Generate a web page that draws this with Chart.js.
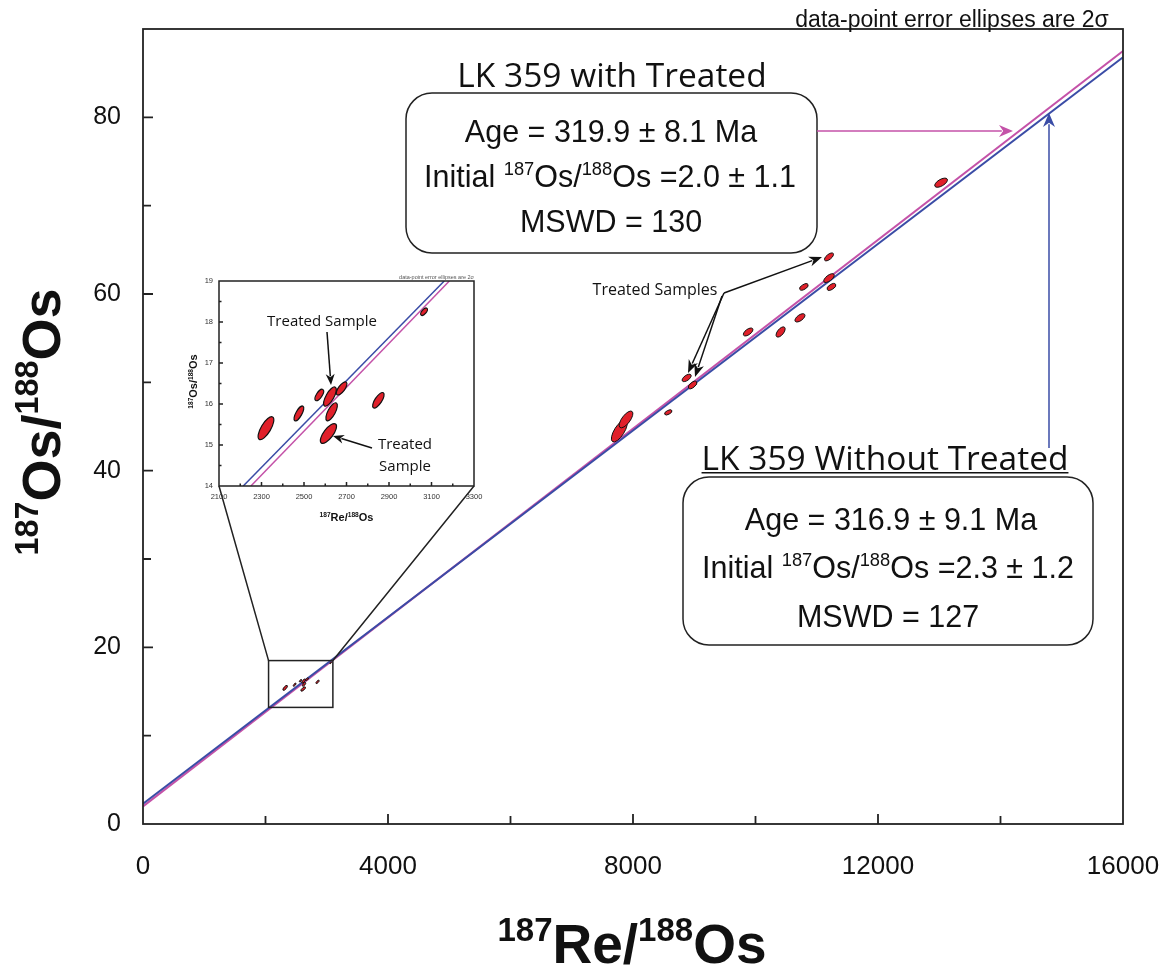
<!DOCTYPE html>
<html>
<head>
<meta charset="utf-8">
<script src="https://cdn.jsdelivr.net/npm/chart.js@4.4.1/dist/chart.umd.min.js"></script>
<style>
  body { margin: 0; background: #fff; }
  #wrap { position: relative; width: 1171px; height: 969px; }
  #mainChart { position: absolute; left: 0; top: 0; }
  #insetChart { position: absolute; left: 150px; top: 260px; }
</style>
</head>
<body>
<div id="wrap">
  <canvas id="mainChart" width="1171" height="969"></canvas>
  <canvas id="insetChart" width="350" height="270"></canvas>
</div>
<script>
// Main plot data-points (187Re/188Os, 187Os/188Os, 2 sigma errors, error correlation)
const mainRe    = [7777, 7886, 8576, 8876, 8973, 9880, 10410, 10726, 10790, 11200, 11200, 11240, 13030];
const mainOs    = [44.5, 45.8, 46.6, 50.5, 49.7, 55.7, 55.7, 57.3, 60.8, 64.2, 61.8, 60.8, 72.6];
const mainReErr = [130, 112, 60, 74, 70, 78, 74, 82, 70, 74, 86, 72, 104];
const mainOsErr = [1.25, 0.95, 0.29, 0.42, 0.42, 0.45, 0.58, 0.47, 0.36, 0.45, 0.50, 0.38, 0.52];
const mainRho   = [0.7, 0.7, 0.55, 0.6, 0.6, 0.6, 0.6, 0.6, 0.55, 0.65, 0.65, 0.55, 0.6];

// Low ratio data-points (shown enlarged in the inset)
const insetRe    = [2321, 2476, 2572, 2622, 2677, 2630, 2615, 2850, 3065];
const insetOs    = [15.41, 15.77, 16.22, 16.18, 16.38, 15.81, 15.28, 16.09, 18.25];
const insetReErr = [37, 23, 20, 30, 25, 27, 38, 27, 16];
const insetOsErr = [0.28, 0.18, 0.14, 0.235, 0.16, 0.22, 0.24, 0.19, 0.09];
const insetRho   = [0.72, 0.72, 0.65, 0.72, 0.7, 0.7, 0.72, 0.72, 0.6];

// Isochron end points
const withTreatedX    = [0, 16000];
const withTreatedY    = [2.0, 87.5];
const withoutTreatedX = [0, 16000];
const withoutTreatedY = [2.3, 86.8];
const insetWithX      = [2250, 3184];
const insetWithY      = [14, 19];
const insetWithoutX   = [2214, 3160];
const insetWithoutY   = [14, 19];

// Axis ranges
const mainXRange  = [0, 16000];
const mainYRange  = [0, 90];
const insetXRange = [2100, 3300];
const insetYRange = [14, 19];
// zoomed region marked on the main plot
const zoomBoxX = [2050, 3100];
const zoomBoxY = [13.2, 18.5];

const MAGENTA = '#c452a8';
const BLUE = '#3a4ca6';
const RED = '#e0202a';
const SANS = '"Liberation Sans", Arial, sans-serif';
const MYRIAD = '"Open Sans", "Noto Sans", sans-serif';

function toPoints(xs, ys) {
    return xs.map((x, i) => ({ x: x, y: ys[i] }));
}

// Draw text made of normal and superscript parts, y is the baseline
function richText(ctx, parts, x, y, size, family, weight, align) {
    const supSize = size * 0.6;
    const widths = parts.map(([t, sup]) => {
        ctx.font = `${weight} ${sup ? supSize : size}px ${family}`;
        return ctx.measureText(t).width;
    });
    const total = widths.reduce((a, b) => a + b, 0);
    let cx = align === 'center' ? x - total / 2 : x;
    ctx.textAlign = 'left';
    ctx.textBaseline = 'alphabetic';
    parts.forEach(([t, sup], i) => {
        ctx.font = `${weight} ${sup ? supSize : size}px ${family}`;
        ctx.fillText(t, cx, sup ? y - size * 0.4 : y);
        cx += widths[i];
    });
    return total;
}

function arrow(ctx, x1, y1, x2, y2, color, lw, len, half) {
    const a = Math.atan2(y2 - y1, x2 - x1);
    ctx.save();
    ctx.strokeStyle = color;
    ctx.fillStyle = color;
    ctx.lineWidth = lw;
    ctx.beginPath();
    ctx.moveTo(x1, y1);
    ctx.lineTo(x2 - Math.cos(a) * len * 0.8, y2 - Math.sin(a) * len * 0.8);
    ctx.stroke();
    ctx.beginPath();
    ctx.moveTo(x2, y2);
    ctx.lineTo(x2 - Math.cos(a) * len - Math.sin(a) * half, y2 - Math.sin(a) * len + Math.cos(a) * half);
    ctx.lineTo(x2 - Math.cos(a) * len * 0.7, y2 - Math.sin(a) * len * 0.7);
    ctx.lineTo(x2 - Math.cos(a) * len + Math.sin(a) * half, y2 - Math.sin(a) * len - Math.cos(a) * half);
    ctx.closePath();
    ctx.fill();
    ctx.restore();
}

// Error ellipses drawn through the chart scales
function makeEllipsePlugin(id, re, os, reErr, osErr, rho, lw) {
    return {
        id: id,
        afterDatasetsDraw(chart) {
            const { ctx, chartArea: a, scales: { x, y } } = chart;
            ctx.save();
            ctx.beginPath();
            ctx.rect(a.left, a.top, a.right - a.left, a.bottom - a.top);
            ctx.clip();
            re.forEach((v, i) => {
                const cx = x.getPixelForValue(v);
                const cy = y.getPixelForValue(os[i]);
                const sx = Math.abs(x.getPixelForValue(v + reErr[i]) - cx);
                const sy = Math.abs(y.getPixelForValue(os[i] + osErr[i]) - cy);
                const A = sx * sx, D = sy * sy, B = -rho[i] * sx * sy;
                const m = (A + D) / 2;
                const r = Math.sqrt(((A - D) / 2) ** 2 + B * B);
                const ang = 0.5 * Math.atan2(2 * B, A - D);
                ctx.beginPath();
                ctx.ellipse(cx, cy, Math.sqrt(m + r), Math.sqrt(Math.max(m - r, 0.3)), ang, 0, Math.PI * 2);
                ctx.fillStyle = RED;
                ctx.fill();
                ctx.lineWidth = lw;
                ctx.strokeStyle = '#111';
                ctx.stroke();
            });
            ctx.restore();
        }
    };
}

// Box frame with inward tick marks
function makeFramePlugin(id, lw, major, minor) {
    return {
        id: id,
        afterDraw(chart) {
            const { ctx, chartArea: a, scales: { x, y } } = chart;
            ctx.save();
            ctx.strokeStyle = '#222';
            ctx.lineWidth = lw;
            ctx.strokeRect(a.left, a.top, a.right - a.left, a.bottom - a.top);
            ctx.beginPath();
            x.ticks.forEach(t => {
                const px = x.getPixelForValue(t.value);
                if (px <= a.left + 1 || px >= a.right - 1) return;
                const L = t.label !== '' ? major : minor;
                ctx.moveTo(px, a.bottom);
                ctx.lineTo(px, a.bottom - L);
            });
            y.ticks.forEach(t => {
                const py = y.getPixelForValue(t.value);
                if (py <= a.top + 1 || py >= a.bottom - 1) return;
                const L = t.label !== '' ? major : minor;
                ctx.moveTo(a.left, py);
                ctx.lineTo(a.left + L, py);
            });
            ctx.stroke();
            ctx.restore();
        }
    };
}

// fixed axis sizes, no extra label overflow padding
function fixSize(prop, value) {
    return s => {
        s[prop] = value;
        s.paddingTop = s.paddingBottom = s.paddingLeft = s.paddingRight = 0;
    };
}

const axisTitle = [['187', true], ['Re/', false], ['188', true], ['Os', false]];
const osTitle = [['187', true], ['Os/', false], ['188', true], ['Os', false]];

// ---------- inset chart ----------
const insetOffset = { x: 150, y: 260 };

const insetNotes = {
    id: 'insetNotes',
    afterDraw(chart) {
        const { ctx, chartArea: a } = chart;
        ctx.save();
        ctx.fillStyle = '#555';
        ctx.font = `5.5px ${SANS}`;
        ctx.textAlign = 'right';
        ctx.textBaseline = 'alphabetic';
        ctx.fillText('data-point error ellipses are 2\u03c3', a.right, a.top - 2);

        ctx.fillStyle = '#111';
        richText(ctx, axisTitle, (a.left + a.right) / 2, 261, 11, SANS, 'bold', 'center');
        ctx.translate(47, (a.top + a.bottom) / 2 - 2);
        ctx.rotate(-Math.PI / 2);
        richText(ctx, osTitle, 0, 0, 11, SANS, 'bold', 'center');
        ctx.restore();

        ctx.save();
        ctx.fillStyle = '#111';
        ctx.font = `15px ${MYRIAD}`;
        ctx.textAlign = 'center';
        ctx.textBaseline = 'middle';
        ctx.fillText('Treated Sample', 172, 62);
        ctx.fillText('Treated', 255, 185);
        ctx.fillText('Sample', 255, 207);
        ctx.restore();
        arrow(ctx, 177, 72, 181, 125, '#111', 1.5, 11, 4.5);
        arrow(ctx, 222, 188, 183, 176, '#111', 1.5, 11, 4.5);
    }
};

const insetChart = new Chart(document.getElementById('insetChart'), {
    type: 'scatter',
    data: {
        datasets: [
            {
                label: 'Without treated',
                data: toPoints(insetWithoutX, insetWithoutY),
                showLine: true,
                borderColor: BLUE,
                borderWidth: 1.5,
                pointRadius: 0
            },
            {
                label: 'With treated',
                data: toPoints(insetWithX, insetWithY),
                showLine: true,
                borderColor: MAGENTA,
                borderWidth: 1.5,
                pointRadius: 0
            }
        ]
    },
    options: {
        responsive: false,
        animation: false,
        devicePixelRatio: 1,
        layout: { padding: { left: 0, right: 26, top: 21, bottom: 0 } },
        plugins: { legend: { display: false }, tooltip: { enabled: false } },
        scales: {
            x: {
                type: 'linear',
                min: insetXRange[0],
                max: insetXRange[1],
                grid: { display: false, drawTicks: false },
                border: { display: false },
                ticks: {
                    stepSize: 100,
                    autoSkip: false,
                    maxRotation: 0,
                    padding: 6,
                    color: '#333',
                    font: { family: '"Liberation Sans Narrow", ' + SANS, size: 7.5 },
                    callback: v => ((v - 2100) % 200 === 0 ? String(v) : '')
                },
                afterFit: fixSize('height', 44)
            },
            y: {
                type: 'linear',
                min: insetYRange[0],
                max: insetYRange[1],
                grid: { display: false, drawTicks: false },
                border: { display: false },
                ticks: {
                    stepSize: 0.5,
                    autoSkip: false,
                    padding: 6,
                    color: '#333',
                    font: { family: '"Liberation Sans Narrow", ' + SANS, size: 7.5 },
                    callback: v => (Number.isInteger(v) ? String(v) : '')
                },
                afterFit: fixSize('width', 69)
            }
        }
    },
    plugins: [
        makeEllipsePlugin('insetEllipses', insetRe, insetOs, insetReErr, insetOsErr, insetRho, 1.2),
        makeFramePlugin('insetFrame', 1.5, 4, 2.5),
        insetNotes
    ]
});

// ---------- main chart ----------
const mainNotes = {
    id: 'mainNotes',
    afterDraw(chart) {
        const { ctx, scales: { x, y } } = chart;
        ctx.save();
        ctx.fillStyle = '#111';

        // axis titles
        richText(ctx, axisTitle, 632, 963, 55, SANS, 'bold', 'center');
        ctx.save();
        ctx.translate(60, 422);
        ctx.rotate(-Math.PI / 2);
        richText(ctx, osTitle, 0, 0, 54, SANS, 'bold', 'center');
        ctx.restore();

        ctx.font = `23px ${SANS}`;
        ctx.textAlign = 'center';
        ctx.textBaseline = 'alphabetic';
        ctx.fillText('data-point error ellipses are 2\u03c3', 952, 27);

        // result boxes
        ctx.font = `33.5px ${MYRIAD}`;
        ctx.fillText('LK 359 with Treated', 612, 87);
        const w2 = ctx.measureText('LK 359 Without Treated').width;
        ctx.fillText('LK 359 Without Treated', 885, 470);
        ctx.fillRect(885 - w2 / 2, 472, w2, 1.5);

        ctx.lineWidth = 1.5;
        ctx.strokeStyle = '#222';
        ctx.beginPath();
        ctx.roundRect(406, 93, 411, 160, 26);
        ctx.stroke();
        ctx.beginPath();
        ctx.roundRect(683, 477, 410, 168, 26);
        ctx.stroke();

        ctx.font = `30.5px ${SANS}`;
        ctx.fillText('Age = 319.9 \u00b1 8.1 Ma', 611, 142);
        ctx.fillText('MSWD = 130', 611, 232);
        richText(ctx, [['Initial ', false], ['187', true], ['Os/', false], ['188', true], ['Os =2.0 \u00b1 1.1', false]],
            610, 187, 30.5, SANS, 'normal', 'center');
        ctx.textAlign = 'center';
        ctx.font = `30.5px ${SANS}`;
        ctx.fillText('Age = 316.9 \u00b1 9.1 Ma', 891, 530);
        ctx.fillText('MSWD = 127', 888, 627);
        richText(ctx, [['Initial ', false], ['187', true], ['Os/', false], ['188', true], ['Os =2.3 \u00b1 1.2', false]],
            888, 578, 30.5, SANS, 'normal', 'center');

        // coloured arrows to isochrons
        arrow(ctx, 817, 131, 1013, 131, MAGENTA, 1.5, 14, 6);
        arrow(ctx, 1049, 448, 1049, 113, BLUE, 1.5, 14, 6);

        // treated samples label
        ctx.fillStyle = '#111';
        ctx.font = `16px ${MYRIAD}`;
        ctx.textAlign = 'center';
        ctx.textBaseline = 'middle';
        ctx.fillText('Treated Samples', 655, 290);
        arrow(ctx, 724, 293, 822, 257, '#111', 1.5, 13, 5);
        arrow(ctx, 724, 293, 688, 373, '#111', 1.5, 13, 5);
        arrow(ctx, 722, 296, 695, 377, '#111', 1.5, 13, 5);

        // zoom box and connecting lines to the inset
        const bx1 = x.getPixelForValue(zoomBoxX[0]);
        const bx2 = x.getPixelForValue(zoomBoxX[1]);
        const by1 = y.getPixelForValue(zoomBoxY[1]);
        const by2 = y.getPixelForValue(zoomBoxY[0]);
        ctx.strokeStyle = '#222';
        ctx.lineWidth = 1.5;
        ctx.strokeRect(bx1, by1, bx2 - bx1, by2 - by1);
        const ia = insetChart.chartArea;
        ctx.beginPath();
        ctx.moveTo(insetOffset.x + ia.left, insetOffset.y + ia.bottom);
        ctx.lineTo(bx1, by1);
        ctx.moveTo(insetOffset.x + ia.right, insetOffset.y + ia.bottom);
        ctx.lineTo(bx2, by1);
        ctx.stroke();
        ctx.restore();
    }
};

const mainChart = new Chart(document.getElementById('mainChart'), {
    type: 'scatter',
    data: {
        datasets: [
            {
                label: 'LK 359 Without Treated',
                data: toPoints(withoutTreatedX, withoutTreatedY),
                showLine: true,
                borderColor: BLUE,
                borderWidth: 2,
                pointRadius: 0
            },
            {
                label: 'LK 359 with Treated',
                data: toPoints(withTreatedX, withTreatedY),
                showLine: true,
                borderColor: MAGENTA,
                borderWidth: 2,
                pointRadius: 0
            }
        ]
    },
    options: {
        responsive: false,
        animation: false,
        devicePixelRatio: 1,
        layout: { padding: { left: 0, right: 48, top: 29, bottom: 0 } },
        plugins: { legend: { display: false }, tooltip: { enabled: false } },
        scales: {
            x: {
                type: 'linear',
                min: mainXRange[0],
                max: mainXRange[1],
                grid: { display: false, drawTicks: false },
                border: { display: false },
                ticks: {
                    stepSize: 2000,
                    autoSkip: false,
                    maxRotation: 0,
                    padding: 27,
                    color: '#111',
                    font: { family: SANS, size: 26 },
                    callback: v => (v % 4000 === 0 ? String(v) : '')
                },
                afterFit: fixSize('height', 145)
            },
            y: {
                type: 'linear',
                min: mainYRange[0],
                max: mainYRange[1],
                grid: { display: false, drawTicks: false },
                border: { display: false },
                ticks: {
                    stepSize: 10,
                    autoSkip: false,
                    padding: 22,
                    color: '#111',
                    font: { family: SANS, size: 25 },
                    callback: v => (v % 20 === 0 && v <= 80 ? String(v) : '')
                },
                afterFit: fixSize('width', 143)
            }
        }
    },
    plugins: [
        makeEllipsePlugin('mainEllipses', mainRe.concat(insetRe), mainOs.concat(insetOs),
            mainReErr.concat(insetReErr), mainOsErr.concat(insetOsErr), mainRho.concat(insetRho), 1),
        makeFramePlugin('mainFrame', 1.8, 10, 8),
        mainNotes
    ]
});
</script>
</body>
</html>
